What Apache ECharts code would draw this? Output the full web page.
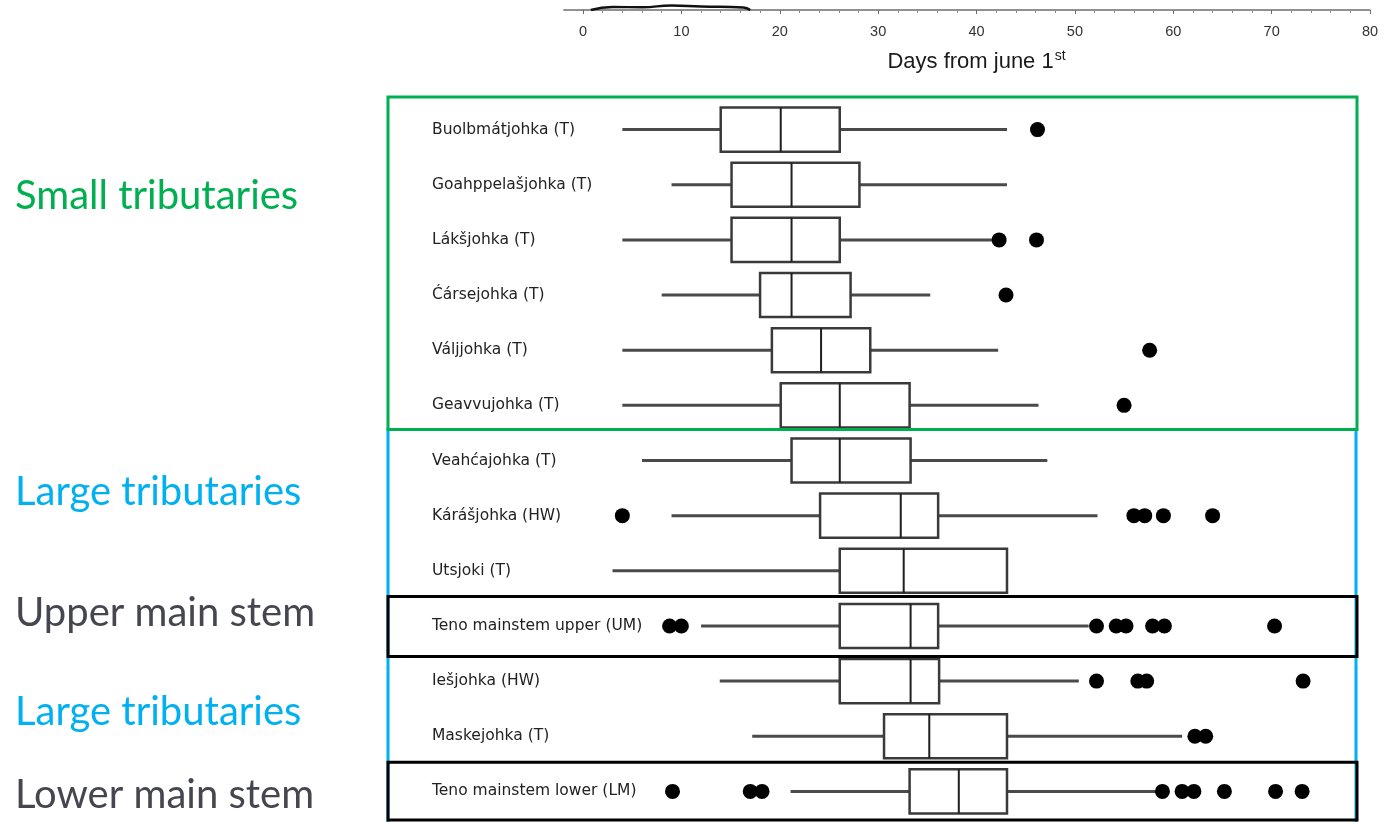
<!DOCTYPE html>
<html>
<head>
<meta charset="utf-8">
<script src="https://cdn.jsdelivr.net/npm/echarts@6/dist/echarts.min.js"></script>
<style>
html,body{margin:0;padding:0;background:#fff;}
#chart{width:1387px;height:822px;}
</style>
</head>
<body>
<div id="chart"></div>
<script>
// ---------- data ----------
var categories = [
  'Buolbmátjohka (T)', 'Goahppelašjohka (T)', 'Lákšjohka (T)', 'Ćársejohka (T)',
  'Váljjohka (T)', 'Geavvujohka (T)', 'Veahćajohka (T)', 'Kárášjohka (HW)',
  'Utsjoki (T)', 'Teno mainstem upper (UM)', 'Iešjohka (HW)', 'Maskejohka (T)',
  'Teno mainstem lower (LM)'
];
// whisker low, Q1, median, Q3, whisker high
var whiskerLow = [4, 9, 4, 8.0, 4, 4, 6, 9, 3, 12, 13.9, 17.2, 21.1];
var q1Values   = [14.0, 15.1, 15.1, 18.0, 19.2, 20.1, 21.2, 24.1, 26.1, 26.1, 26.1, 30.6, 33.2];
var medians    = [20.1, 21.2, 21.2, 21.2, 24.2, 26.1, 26.1, 32.3, 32.6, 33.3, 33.3, 35.2, 38.2];
var q3Values   = [26.1, 28.1, 26.1, 27.2, 29.2, 33.2, 33.3, 36.1, 43.1, 36.1, 36.2, 43.1, 43.1];
var whiskerHigh= [43.1, 43.1, 41.6, 35.3, 42.2, 46.3, 47.2, 52.3, 43.1, 51.4, 50.4, 60.9, 58.6];
var outliers = [
  [46.2],
  [],
  [42.3, 46.1],
  [43.0],
  [57.6],
  [55.0],
  [],
  [4.0, 56.0, 57.1, 59.0, 64.0],
  [],
  [8.8, 10.0, 52.2, 54.2, 55.2, 57.9, 59.1, 70.3],
  [52.2, 56.4, 57.3, 73.2],
  [62.2, 63.3],
  [9.1, 17.0, 18.2, 58.9, 60.9, 62.1, 65.2, 70.4, 73.1]
];
// remnant of a curve from the figure above (cut off at the top edge)
var remnantCurve = [[0.8, 0], [3, 0.6], [6, 0.55], [9, 0.9], [12, 0.7], [16.3, 0.5], [17, 0]];
var xTickMin = 0, xTickMax = 80, xTickInterval = 10;
var axisLineStart = -2;
var axisTitle = 'Days from june 1';
var axisTitleSup = 'st';
var groupLabels = [
  {text: 'Small tributaries', color: '#00B050'},
  {text: 'Large tributaries', color: '#00B0F0'},
  {text: 'Upper main stem', color: '#464650'},
  {text: 'Large tributaries', color: '#00B0F0'},
  {text: 'Lower main stem', color: '#464650'}
];

// ---------- build ----------
var boxData = categories.map(function (c, i) {
  return [i, whiskerLow[i], q1Values[i], medians[i], q3Values[i], whiskerHigh[i]];
});
var outlierData = [];
outliers.forEach(function (arr, i) {
  arr.forEach(function (v) { outlierData.push([v, i]); });
});

function renderBox(params, api) {
  var cat = api.value(0);
  var lo = api.coord([api.value(1), cat]);
  var q1 = api.coord([api.value(2), cat]);
  var md = api.coord([api.value(3), cat]);
  var q3 = api.coord([api.value(4), cat]);
  var hi = api.coord([api.value(5), cat]);
  var band = api.size([0, 1])[1];
  var h = band * 0.8;
  var y = lo[1];
  var whiskerStyle = {stroke: '#4a4a4a', lineWidth: 3};
  return {
    type: 'group',
    children: [
      {type: 'line', shape: {x1: lo[0], y1: y, x2: q1[0], y2: y}, style: whiskerStyle},
      {type: 'line', shape: {x1: q3[0], y1: y, x2: hi[0], y2: y}, style: whiskerStyle},
      {type: 'rect', shape: {x: q1[0], y: y - h / 2, width: q3[0] - q1[0], height: h},
        style: {fill: '#fff', stroke: '#3a3a3a', lineWidth: 2.5}},
      {type: 'line', shape: {x1: md[0], y1: y - h / 2, x2: md[0], y2: y + h / 2},
        style: {stroke: '#1e1e1e', lineWidth: 2}}
    ]
  };
}

var chart = echarts.init(document.getElementById('chart'), null, {renderer: 'canvas'});
var option = {
  backgroundColor: '#fff',
  animation: false,
  grid: [
    {left: 583, right: 17, top: 5, height: 5},
    {left: 583, right: 17, top: 102, height: 717}
  ],
  xAxis: [
    {
      gridIndex: 0, type: 'value', min: xTickMin, max: xTickMax, interval: xTickInterval,
      position: 'bottom',
      axisLine: {show: true, lineStyle: {color: '#6e6e6e', width: 1.5}},
      axisTick: {show: true, length: 4, lineStyle: {color: '#6e6e6e', width: 1}},
      minorTick: {show: true, splitNumber: 5, length: 3, lineStyle: {color: '#8a8a8a', width: 1}},
      splitLine: {show: false},
      axisLabel: {margin: 14, fontFamily: 'Liberation Sans', fontSize: 14.5, color: '#333'},
      name: '{a|' + axisTitle + '}{s|' + axisTitleSup + '}',
      nameLocation: 'middle', nameGap: 39,
      nameTextStyle: {
        rich: {
          a: {fontFamily: 'Liberation Sans', fontSize: 22, color: '#1a1a1a', lineHeight: 26},
          s: {fontFamily: 'Liberation Sans', fontSize: 14, color: '#1a1a1a', lineHeight: 26, padding: [0, 0, 11, 1]}
        }
      }
    },
    {
      gridIndex: 1, type: 'value', min: xTickMin, max: xTickMax, show: false,
      splitLine: {show: false}
    }
  ],
  yAxis: [
    {gridIndex: 0, type: 'value', min: 0, max: 1, show: false, splitLine: {show: false}},
    {
      gridIndex: 1, type: 'category', data: categories, inverse: true,
      axisLine: {show: false}, axisTick: {show: false}, splitLine: {show: false},
      axisLabel: {align: 'left', margin: 151, fontFamily: 'DejaVu Sans', fontSize: 15.5, color: '#222'}
    }
  ],
  series: [
    {
      type: 'line', xAxisIndex: 0, yAxisIndex: 0, data: remnantCurve, smooth: true,
      symbol: 'none', lineStyle: {color: '#111', width: 2.5}, silent: true
    },
    {
      type: 'custom', xAxisIndex: 1, yAxisIndex: 1, data: boxData,
      renderItem: renderBox, encode: {x: [1, 2, 3, 4, 5], y: 0}, z: 3
    },
    {
      type: 'scatter', xAxisIndex: 1, yAxisIndex: 1, data: outlierData,
      symbol: 'circle', symbolSize: 15, itemStyle: {color: '#000', opacity: 1}, z: 4
    }
  ]
};
chart.setOption(option);

// ---------- frames and group labels (decoration, positioned from the axes) ----------
function center(i) { return chart.convertToPixel({yAxisIndex: 1}, i); }
var c0 = center(0), c12 = center(12);
var band = (c12 - c0) / 12;
function boundary(k) { return c0 + (k - 0.5) * band; }
var axX0 = chart.convertToPixel({xAxisIndex: 0}, axisLineStart);
var axX1 = chart.convertToPixel({xAxisIndex: 0}, xTickMin);
var axY = chart.convertToPixel({yAxisIndex: 0}, 0);
var fx = 388, fw = 969;
var gTop = boundary(0) - 5, gBot = boundary(6) - 3.5;
var graphics = [
  {type: 'line', shape: {x1: axX0, y1: axY, x2: axX1, y2: axY},
    style: {stroke: '#6e6e6e', lineWidth: 1.5}, z: 5},
  {type: 'rect', shape: {x: fx, y: gBot, width: fw - 1, height: 900 - gBot},
    style: {fill: 'none', stroke: '#00B0F0', lineWidth: 3}, z: 10},
  {type: 'rect', shape: {x: fx, y: gTop, width: fw, height: gBot - gTop},
    style: {fill: 'none', stroke: '#00B050', lineWidth: 3}, z: 11},
  {type: 'rect', shape: {x: fx, y: boundary(9) - 2, width: fw, height: boundary(10) - boundary(9) + 5},
    style: {fill: 'none', stroke: '#000', lineWidth: 3}, z: 12},
  {type: 'rect', shape: {x: fx, y: boundary(12) - 1.5, width: fw, height: band + 2.5},
    style: {fill: 'none', stroke: '#000', lineWidth: 3}, z: 12}
];
var labelY = [196, 492, 613, 712, 795];
groupLabels.forEach(function (g, i) {
  graphics.push({
    type: 'text', x: 15, y: labelY[i], z: 13,
    style: {text: g.text, fill: g.color, font: '40px Lato', textAlign: 'left', textVerticalAlign: 'middle'}
  });
});
chart.setOption({graphic: graphics});
</script>
</body>
</html>
